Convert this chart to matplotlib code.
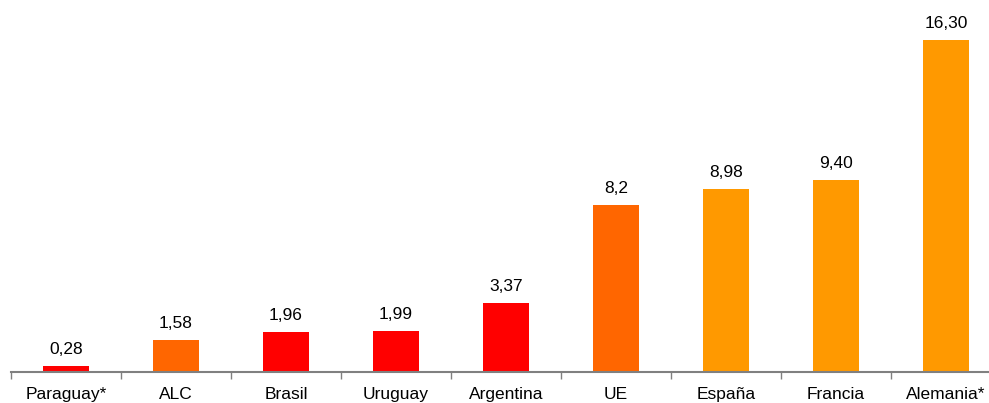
import numpy as np
import matplotlib.pyplot as plt

paises = ['Paraguay*', 'ALC', 'Brasil', 'Uruguay', 'Argentina', 'UE', 'España', 'Francia', 'Alemania*']
valores = [0.28, 1.58, 1.96, 1.99, 3.37, 8.2, 8.98, 9.40, 16.30]
etiquetas = ['0,28', '1,58', '1,96', '1,99', '3,37', '8,2', '8,98', '9,40', '16,30']
colores = ['#FF0000', '#FF6600', '#FF0000', '#FF0000', '#FF0000',
           '#FF6600', '#FF9900', '#FF9900', '#FF9900']

plt.rcParams['font.family'] = ['Liberation Sans', 'DejaVu Sans']

fig = plt.figure(figsize=(9.89, 4.03), dpi=100)
# el eje se extiende un poco mas alla del borde derecho, como en el original
ax = fig.add_axes([11 / 989, 31 / 403, 990 / 989, 372 / 403])

x = np.arange(len(paises))
ax.bar(x, valores, width=0.41, color=colores, zorder=2)

for xi, v, t in zip(x, valores, etiquetas):
    ax.text(xi, v + 0.6, t, ha='center', va='baseline', fontsize=12.5, color='black')

ax.set_xlim(-0.5, len(paises) - 0.5)
ax.set_ylim(0, 18.26)

# ticks en los limites de cada categoria
ax.set_xticks(np.arange(len(paises) + 1) - 0.5)
ax.set_xticklabels([])
ax.set_xticks(x, minor=True)
ax.set_xticklabels(paises, minor=True, fontsize=12.5)
ax.tick_params(axis='x', which='major', length=5, color='#808080', width=1)
ax.tick_params(axis='x', which='minor', length=0, pad=11)

ax.set_yticks([])
for s in ['top', 'right', 'left']:
    ax.spines[s].set_visible(False)
ax.spines['bottom'].set_color('#808080')
ax.spines['bottom'].set_linewidth(1.5)

fig.savefig('out.png', dpi=100)
